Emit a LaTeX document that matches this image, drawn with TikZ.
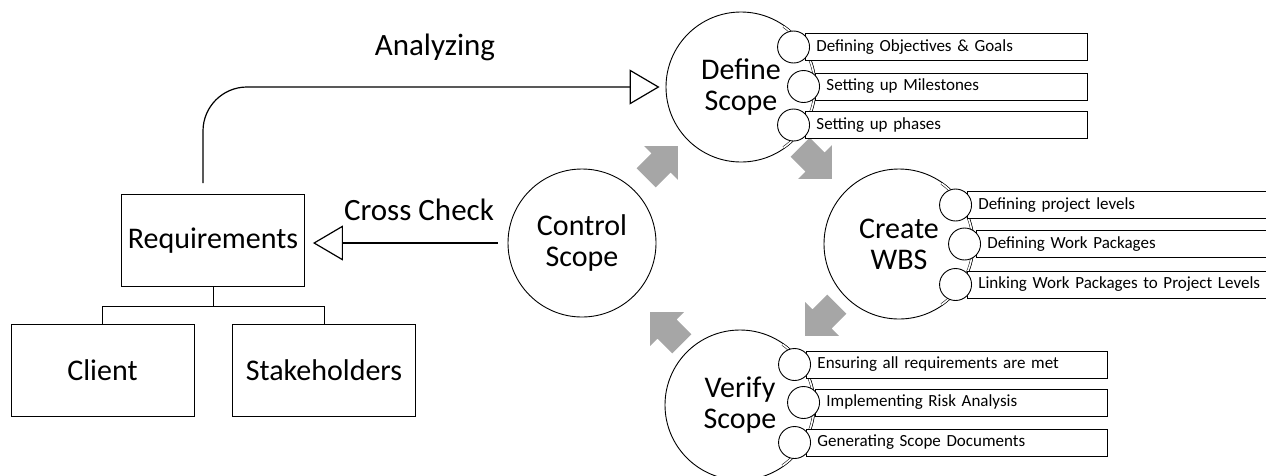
\documentclass[tikz,border=0pt]{standalone}
\usepackage{fontspec}
\setmainfont{Carlito}
\usetikzlibrary{positioning, arrows.meta}
\definecolor{cycle_grey}{RGB}{166,166,166}

\begin{document}
\begin{tikzpicture}[x=1pt, y=1pt, >={Triangle[open, length=30pt, width=35pt]},
    phase/.style={draw, circle, minimum size=150pt, inner sep=0pt, align=center, fill=white, line width=0.9pt, font=\fontsize{30}{31}\selectfont},
    bubble/.style={draw, circle, minimum size=32pt, inner sep=0pt, fill=white, line width=0.9pt},
    task/.style={draw, rectangle, anchor=west, minimum height=27pt, inner xsep=11pt, inner ysep=0pt, align=left, fill=white, line width=0.9pt, font=\fontsize{17}{18}\selectfont},
    entity/.style={draw, rectangle, minimum width=183pt, minimum height=92pt, line width=0.9pt, font=\fontsize{30}{31}\selectfont},
    flowtext/.style={anchor=base, inner sep=0pt, font=\fontsize{31}{32}\selectfont},
    band/.style={draw, double, double distance=1.6pt, line width=0.5pt}]

    \useasboundingbox (0,0) rectangle (1266,-475);

    % --- Begin Requirements Node ---
    \node [entity] (req) at (213,-240.5) {Requirements};
    \node [entity] (client) at (102.5,-370.5) {Client};
    \node [entity] (stake) at (324,-370.5) {Stakeholders};

    \draw[line width=0.9pt] (req.south) -- ++(0,-19) -| (client.north);
    \draw[line width=0.9pt] (req.south) -- ++(0,-19) -| (stake.north);
    % --- End Requirements Node ---

    % --- Begin Cycle Nodes ---
    \node [phase] (define) at (741,-87) {Define\\Scope};
    \node [phase] (wbs) at (899,-244) {Create\\WBS};
    \node [phase] (verify) at (740,-405) {Verify\\Scope};
    \node [phase, minimum size=148pt] (control) at (582,-243) {Control\\Scope};

    % Grey arrows between the phases.
    \fill[cycle_grey, shift={(661,-163)}, rotate=45] (-21,-13.5) -- (0,-13.5) -- (0,-24) -- (24,0) -- (0,24) -- (0,13.5) -- (-21,13.5) -- cycle;
    \fill[cycle_grey, shift={(815,-162)}, rotate=-45] (-21,-13.5) -- (0,-13.5) -- (0,-24) -- (24,0) -- (0,24) -- (0,13.5) -- (-21,13.5) -- cycle;
    \fill[cycle_grey, shift={(822,-319)}, rotate=225] (-21,-13.5) -- (0,-13.5) -- (0,-24) -- (24,0) -- (0,24) -- (0,13.5) -- (-21,13.5) -- cycle;
    \fill[cycle_grey, shift={(667,-329)}, rotate=135] (-21,-13.5) -- (0,-13.5) -- (0,-24) -- (24,0) -- (0,24) -- (0,13.5) -- (-21,13.5) -- cycle;
    % --- End Cycle Nodes ---

    % --- Begin Define Scope Tasks ---
    \draw[band] ([shift={(55:74pt)}]define.center) arc[start angle=55, end angle=-55, radius=74pt];
    \node [task, text width=260pt] (define_t1) at (805,-47) {Defining Objectives \& Goals};
    \node [task, text width=250pt] (define_t2) at (815,-86.5) {Setting up Milestones};
    \node [task, text width=260pt] (define_t3) at (805,-125) {Setting up phases};
    \node [bubble, left=-5pt of define_t1] (define_b1) {};
    \node [bubble, left=-5pt of define_t2] (define_b2) {};
    \node [bubble, left=-5pt of define_t3] (define_b3) {};
    % --- End Define Scope Tasks ---

    % --- Begin Create WBS Tasks ---
    \draw[band] ([shift={(55:74pt)}]wbs.center) arc[start angle=55, end angle=-55, radius=74pt];
    \node [task, text width=286pt] (wbs_t1) at (967,-205) {Defining project levels};
    \node [task, text width=277pt] (wbs_t2) at (976,-244) {Defining Work Packages};
    \node [task, text width=286pt] (wbs_t3) at (967,-284.5) {Linking Work Packages to Project Levels};
    \node [bubble, left=-5pt of wbs_t1] (wbs_b1) {};
    \node [bubble, left=-5pt of wbs_t2] (wbs_b2) {};
    \node [bubble, left=-5pt of wbs_t3] (wbs_b3) {};
    % --- End Create WBS Tasks ---

    % --- Begin Verify Scope Tasks ---
    \draw[band] ([shift={(55:74pt)}]verify.center) arc[start angle=55, end angle=-55, radius=74pt];
    \node [task, text width=279pt] (verify_t1) at (806,-364.5) {Ensuring all requirements are met};
    \node [task, text width=270pt] (verify_t2) at (815,-402.5) {Implementing Risk Analysis};
    \node [task, text width=279pt] (verify_t3) at (806,-442.5) {Generating Scope Documents};
    \node [bubble, left=-5pt of verify_t1] (verify_b1) {};
    \node [bubble, left=-5pt of verify_t2] (verify_b2) {};
    \node [bubble, left=-5pt of verify_t3] (verify_b3) {};
    % --- End Verify Scope Tasks ---

    % Connect the nodes.
    \coordinate (analyze_start) at (203,-183);
    \draw[->, line width=1.2pt, rounded corners=44pt, shorten >=6pt] (analyze_start) |- (define.west);
    \draw[->, line width=1.2pt, shorten <=10pt, shorten >=8pt] (control.west) -- (control.west -| req.east);

    \node [flowtext] (analyzing) at (435,-55) {Analyzing};
    \node [flowtext] (crosscheck) at (419,-220) {Cross Check};

\end{tikzpicture}
\end{document}
